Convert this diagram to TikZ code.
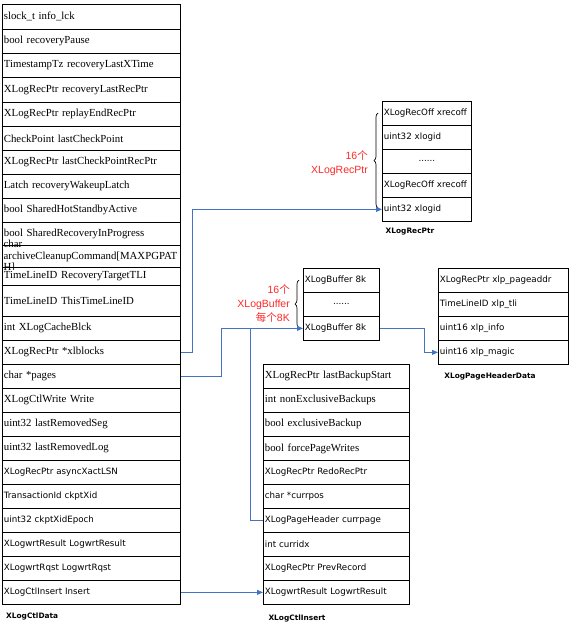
\documentclass[tikz,border=0pt]{standalone}
\usepackage{fontspec}
\setmainfont{Liberation Serif}
\newfontfamily\sansf{DejaVu Sans}
\newfontfamily\redf{Liberation Sans}
\newfontfamily\cjk{Noto Sans CJK SC}
\usetikzlibrary{decorations.pathreplacing,arrows.meta}
\definecolor{connblue}{RGB}{68,114,196}
\definecolor{redtxt}{RGB}{255,40,40}
\newcommand\serifsz{\rmfamily\fontsize{10.8}{12}\selectfont}
\newcommand\sanssz{\sansf\fontsize{8.7}{10}\selectfont}
\newcommand\labsz{\sansf\bfseries\fontsize{7.4}{9}\selectfont}
\newcommand\redsz{\redf\fontsize{10.5}{14}\selectfont}
\begin{document}
\begin{tikzpicture}[x=1pt,y=-1pt,
  cell/.style={draw=black, line width=0.75pt, anchor=north west, inner xsep=1.5pt, inner ysep=0pt, align=left, font=\serifsz, minimum height=24pt},
  sf/.style={font=\sanssz},
  leftcell/.style={cell, minimum width=178pt, text width=175pt},
  rpcell/.style={cell, sf, minimum width=89pt, text width=86pt},
  bufcell/.style={cell, sf, minimum width=76pt, text width=73pt},
  hdrcell/.style={cell, sf, minimum width=130pt, text width=127pt},
  inscell/.style={cell, minimum width=146pt, text width=143pt},
  dots/.style={align=center},
  tablabel/.style={font=\labsz, inner sep=0pt},
  redlabel/.style={font=\redsz, text=redtxt, align=right, inner sep=0pt},
  conn/.style={draw=connblue, line width=0.8pt},
  connarrow/.style={conn, -{Triangle[length=6pt,width=5pt]}},
  bracestyle/.style={draw=black, line width=0.7pt, decorate, decoration={brace, amplitude=4pt}}
]
\useasboundingbox (0,0) rectangle (570,625);

% ---------- XLogCtlData ----------
\node[leftcell,minimum height=24.5pt] (d1) at (2,4) {slock\_t info\_lck};
\node[leftcell,minimum height=24.5pt] (d2) at (2,28.5) {bool recoveryPause};
\node[leftcell] (d3) at (2,53) {TimestampTz recoveryLastXTime};
\node[leftcell,minimum height=24.5pt] (d4) at (2,77) {XLogRecPtr recoveryLastRecPtr};
\node[leftcell,minimum height=24.5pt] (d5) at (2,101.5) {XLogRecPtr replayEndRecPtr};
\node[leftcell] (d6) at (2,126) {CheckPoint lastCheckPoint};
\node[leftcell] (d7) at (2,150) {XLogRecPtr lastCheckPointRecPtr};
\node[leftcell] (d8) at (2,174) {Latch recoveryWakeupLatch};
\node[leftcell] (d9) at (2,198) {bool SharedHotStandbyActive};
\node[leftcell,minimum height=23pt] (d10) at (2,222) {bool SharedRecoveryInProgress};
\node[leftcell,minimum height=22pt] (d11) at (2,245) {};
\node[leftcell,minimum height=18pt] (d12) at (2,267) {TimeLineID RecoveryTargetTLI};
\node[leftcell,minimum height=31pt] (d13) at (2,285) {TimeLineID ThisTimeLineID};
\node[leftcell] (d14) at (2,316) {int XLogCacheBlck};
\node[leftcell] (d15) at (2,340) {XLogRecPtr *xlblocks};
\node[leftcell] (d16) at (2,364) {char *pages};
\node[leftcell] (d17) at (2,388) {XLogCtlWrite Write};
\node[leftcell] (d18) at (2,412) {uint32 lastRemovedSeg};
\node[leftcell] (d19) at (2,436) {uint32 lastRemovedLog};
\node[leftcell,sf] (d20) at (2,460) {XLogRecPtr asyncXactLSN};
\node[leftcell,sf] (d21) at (2,484) {TransactionId ckptXid};
\node[leftcell,sf] (d22) at (2,508) {uint32 ckptXidEpoch};
\node[leftcell,sf] (d23) at (2,532) {XLogwrtResult LogwrtResult};
\node[leftcell,sf] (d24) at (2,556) {XLogwrtRqst LogwrtRqst};
\node[leftcell,sf] (d25) at (2,580) {XLogCtlInsert Insert};
\begin{scope}
  \clip (2,238) rectangle (180,269);
  \node[font=\fontsize{10.8}{11.5}\selectfont, align=left, inner xsep=1.5pt, inner ysep=0pt, anchor=west] (d11txt) at (2,256) {char\\archiveCleanupCommand[MAXPGPAT\\H]};
\end{scope}
\node[tablabel, anchor=west] (lblData) at (6,616) {XLogCtlData};

% ---------- XLogRecPtr ----------
\node[rpcell] (r1) at (382,101) {XLogRecOff xrecoff};
\node[rpcell] (r2) at (382,125) {uint32 xlogid};
\node[rpcell,dots] (r3) at (382,149) {......};
\node[rpcell] (r4) at (382,173) {XLogRecOff xrecoff};
\node[rpcell] (r5) at (382,197) {uint32 xlogid};
\node[tablabel] (lblRec) at (410,232) {XLogRecPtr};
\draw[bracestyle] (378,208) -- (378,113);
\node[redlabel, anchor=east] (redRec) at (368,163) {16{\cjk 个}\\XLogRecPtr};

% ---------- XLogBuffer ----------
\node[bufcell] (b1) at (303,268) {XLogBuffer 8k};
\node[bufcell,dots] (b2) at (303,292) {......};
\node[bufcell] (b3) at (303,316) {XLogBuffer 8k};
\draw[bracestyle] (299,328) -- (299,280);
\node[redlabel, anchor=east] (redBuf) at (290,304) {16{\cjk 个}\\XLogBuffer\\{\cjk 每个}8K};

% ---------- XLogPageHeaderData ----------
\node[hdrcell] (h1) at (438,268) {XLogRecPtr xlp\_pageaddr};
\node[hdrcell] (h2) at (438,292) {TimeLineID xlp\_tli};
\node[hdrcell] (h3) at (438,316) {uint16 xlp\_info};
\node[hdrcell] (h4) at (438,340) {uint16 xlp\_magic};
\node[tablabel] (lblHdr) at (490,376) {XLogPageHeaderData};

% ---------- XLogCtlInsert ----------
\node[inscell] (c1) at (263,364) {XLogRecPtr lastBackupStart};
\node[inscell] (c2) at (263,388) {int nonExclusiveBackups};
\node[inscell] (c3) at (263,412) {bool exclusiveBackup};
\node[inscell] (c4) at (263,436) {bool forcePageWrites};
\node[inscell,sf] (c5) at (263,460) {XLogRecPtr RedoRecPtr};
\node[inscell,sf] (c6) at (263,484) {char *currpos};
\node[inscell,sf] (c7) at (263,508) {XLogPageHeader currpage};
\node[inscell,sf] (c8) at (263,532) {int curridx};
\node[inscell,sf] (c9) at (263,556) {XLogRecPtr PrevRecord};
\node[inscell,sf] (c10) at (263,580) {XLogwrtResult LogwrtResult};
\node[tablabel] (lblIns) at (297,618) {XLogCtlInsert};

% ---------- connectors ----------
\draw[connarrow] (d15.east) -- ++(12,0) |- (r5.west);
\draw[connarrow] (d16.east) -- ++(41,0) |- (b3.west);
\path (b3.west) ++(-53,0) coordinate (junc);
\draw[conn] (junc) |- (c7.west);
\draw[connarrow] (b3.east) -- ++(45,0) |- (h4.west);
\draw[connarrow] (d25.east) -- (c10.west);
\end{tikzpicture}
\end{document}
